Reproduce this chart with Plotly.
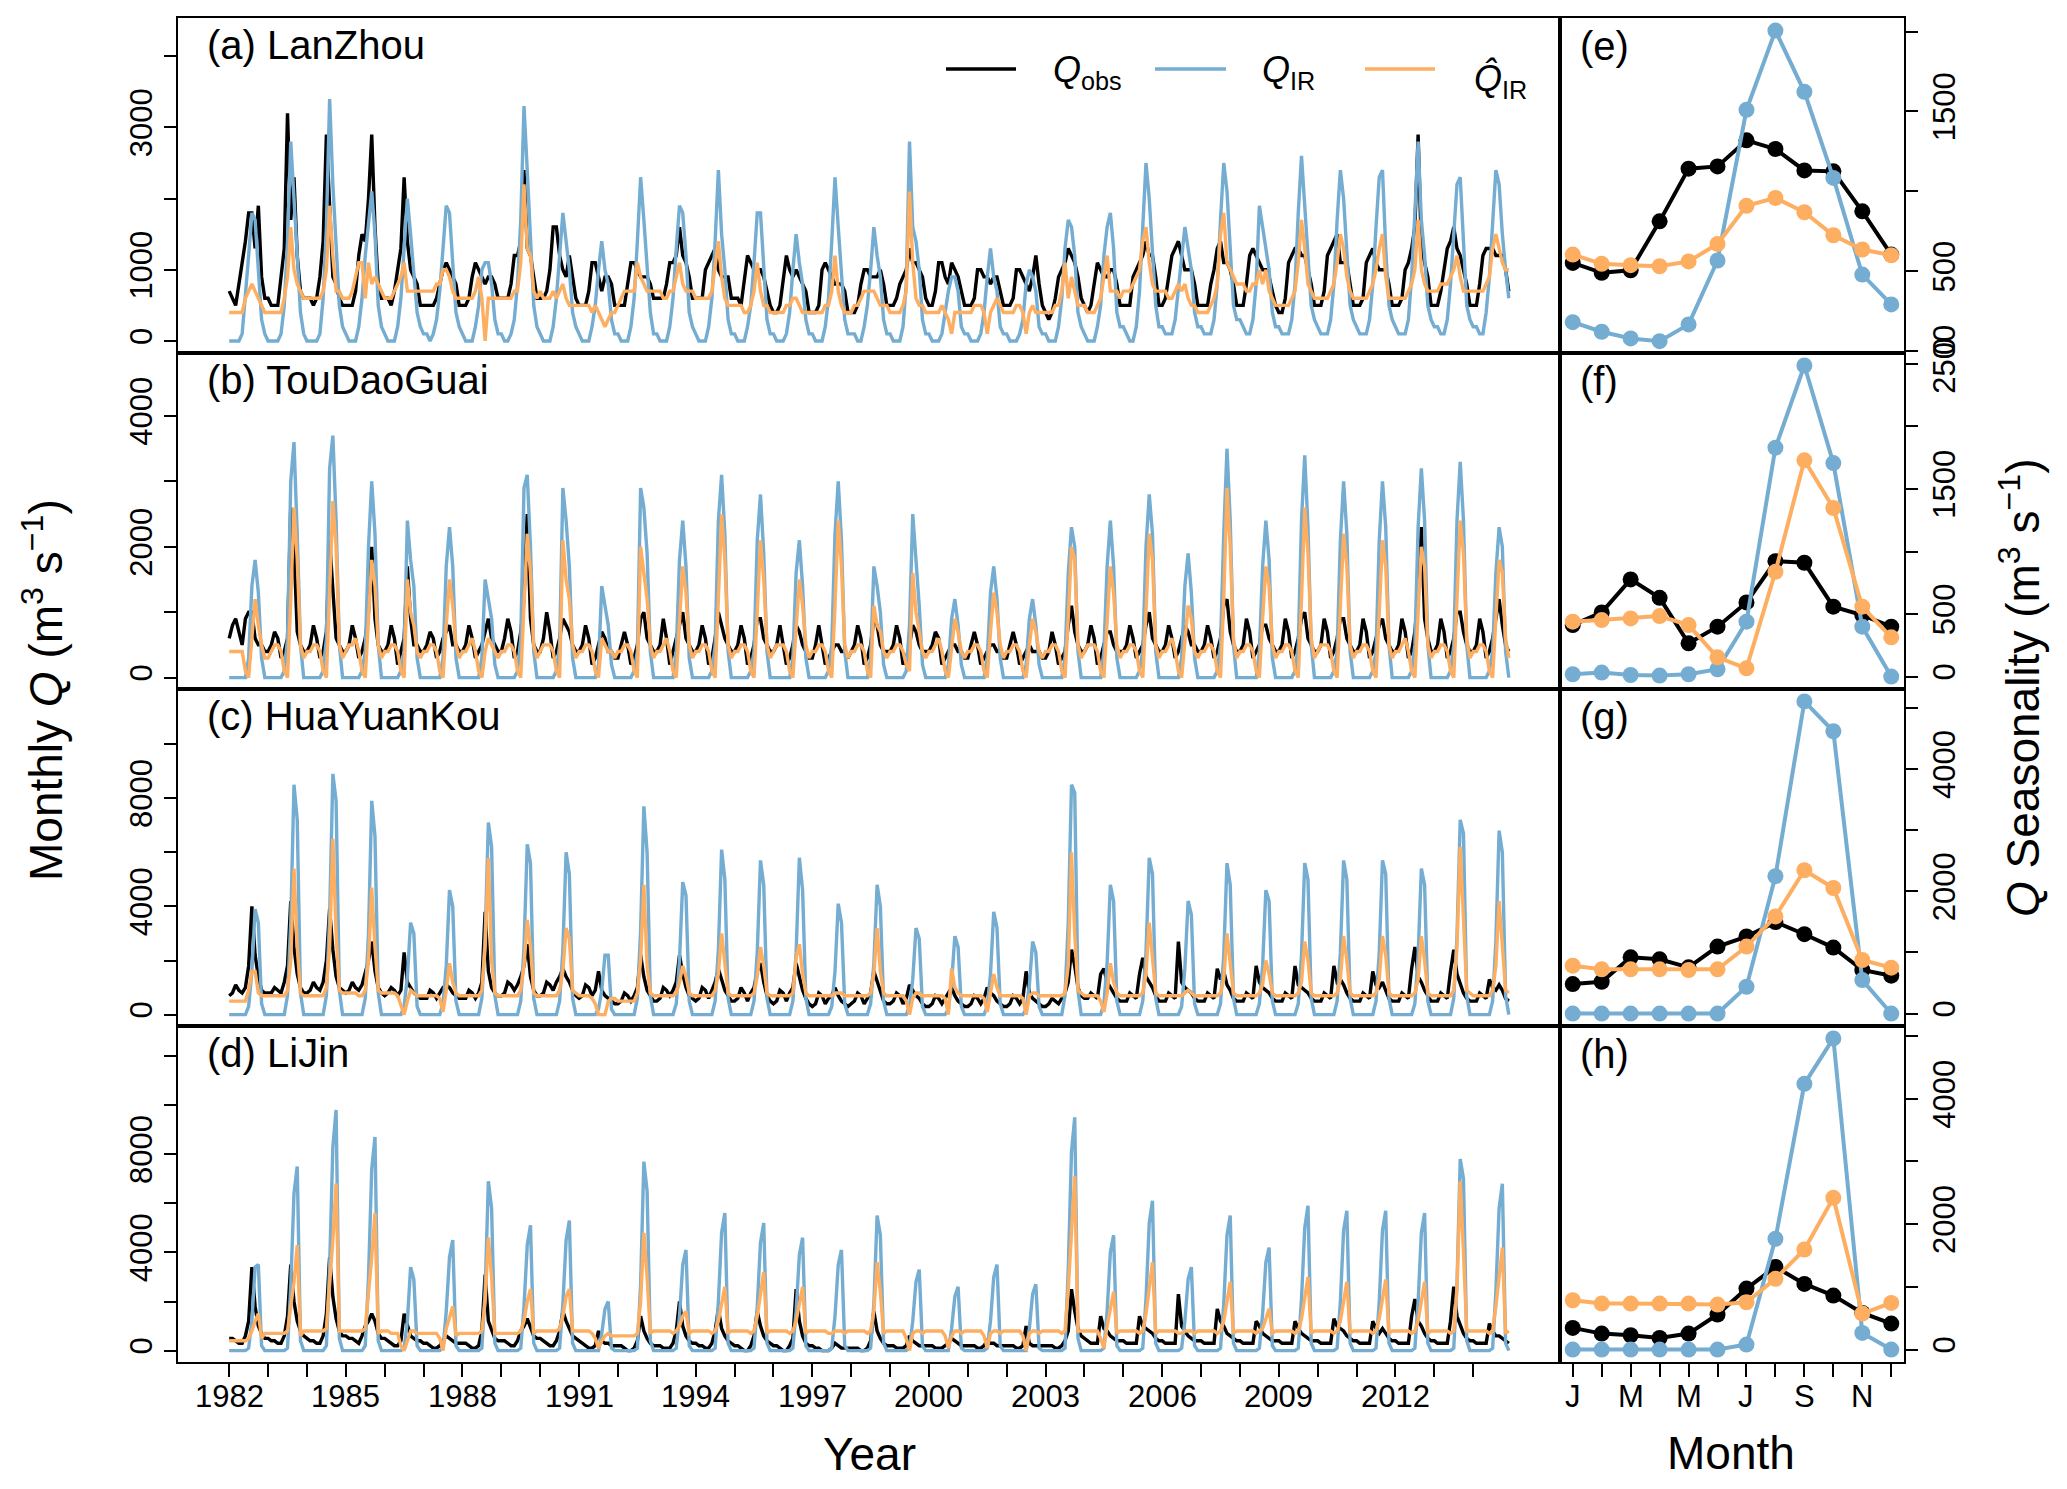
import numpy as np
import plotly.graph_objects as go

YEARS = list(range(1982, 2015))
MONTHS = list(range(1, 13))
YEAR_TICKS = list(range(1982, 2015, 3))
MONTH_TICKS = [1, 3, 5, 7, 9, 11]
MONTH_LABELS = ["J", "M", "M", "J", "S", "N"]

# monthly Q, one row per year 1982-2014 (Jan..Dec), in units of 100 m3/s
LZ_OBS = [
    [7,6,5,8,11,14,18,18,13,19,9,6], [6,5,5,5,9,13,32,17,23,12,7,6], [6,6,5,6,9,14,29,18,9,8,6,5],
    [5,5,5,7,12,15,14,20,29,16,8,6], [6,6,5,7,10,13,23,14,10,9,8,5], [5,5,5,5,6,8,10,11,10,9,8,5],
    [5,5,6,9,11,10,9,8,9,9,8,6], [6,6,6,8,12,12,14,24,13,12,9,6], [6,6,7,10,16,16,12,10,9,12,9,6],
    [5,5,5,7,11,11,9,7,9,9,8,5], [5,5,5,8,11,11,10,9,9,9,8,6], [6,6,6,8,11,11,12,16,12,11,9,6],
    [6,6,6,10,11,12,13,10,9,9,9,6], [6,6,5,9,12,11,10,10,10,9,7,5], [4,4,5,9,12,10,9,10,9,8,7,4],
    [4,4,5,10,11,10,9,8,8,8,7,4], [4,4,5,8,10,10,9,9,9,10,8,5], [5,5,6,8,9,10,13,11,11,10,9,6],
    [5,5,7,11,11,9,8,11,10,9,7,5], [5,5,6,10,10,9,9,8,9,9,7,5], [5,5,6,10,10,9,8,7,9,12,8,5],
    [4,3,4,6,9,10,11,13,12,11,9,6], [5,4,5,8,11,10,9,9,10,10,8,5], [5,5,5,9,10,11,12,14,12,12,9,5],
    [5,6,9,12,13,14,12,10,10,10,8,5], [5,5,5,8,10,13,14,11,11,10,8,5], [5,5,8,12,13,12,11,10,10,9,7,5],
    [4,4,6,11,12,13,13,12,12,10,8,5], [5,5,7,12,13,14,15,11,11,11,8,5], [5,5,6,11,12,13,11,10,10,10,8,5],
    [5,5,6,10,11,13,16,29,13,11,9,5], [5,5,7,10,13,14,16,13,12,10,8,5], [5,5,8,12,13,13,13,12,12,12,10,7],
]
LZ_IR = [
    [0,0,0,0,1,6,12,18,17,10,3,1], [0,0,0,0,1,5,14,28,20,12,4,1], [0,0,0,0,1,6,16,34,22,13,5,2],
    [1,0,0,0,2,6,12,17,21,15,5,2], [1,0,0,0,2,6,13,20,15,10,4,2], [1,1,0,1,3,7,13,19,18,11,4,2],
    [1,0,0,0,2,5,10,11,11,8,3,1], [1,0,0,1,3,8,17,33,24,14,5,2], [1,0,0,0,2,6,12,18,14,10,4,2],
    [1,0,0,0,2,5,10,14,10,8,3,1], [1,0,0,0,2,6,14,23,17,11,4,1], [1,0,0,0,2,6,13,19,18,12,4,2],
    [1,0,0,0,2,6,14,24,15,10,3,1], [1,0,0,0,2,5,11,18,18,11,3,1], [1,0,0,0,1,4,10,15,11,8,3,1],
    [1,0,0,0,2,6,14,23,16,10,3,1], [1,1,0,0,2,5,10,16,12,9,3,1], [1,0,0,0,2,8,28,16,14,10,3,1],
    [1,0,0,0,1,4,7,9,9,7,2,1], [1,0,0,0,1,4,9,13,9,7,2,1], [1,0,0,0,1,3,8,10,9,7,2,1],
    [1,0,0,0,2,6,13,17,16,12,4,2], [1,0,0,0,2,5,12,16,18,13,4,2], [2,1,0,0,2,7,16,25,20,13,5,2],
    [2,1,1,1,3,7,12,16,13,10,4,2], [2,1,1,1,3,8,17,25,21,13,5,3], [3,2,1,1,3,8,19,16,13,10,4,2],
    [2,1,1,1,3,8,18,26,19,12,5,3], [2,1,1,1,3,8,17,24,20,12,5,3], [2,1,1,1,3,8,16,23,24,13,5,3],
    [2,1,1,1,3,9,18,28,17,12,5,3], [2,2,1,1,3,8,15,22,23,14,5,3], [2,2,1,1,4,9,17,24,22,15,10,6],
]
LZ_HAT = [
    [4,4,4,4,4,6,7,8,7,6,5,4], [4,4,4,4,4,6,9,16,10,8,7,6], [6,6,6,6,6,7,10,19,12,7,7,6],
    [6,6,7,9,11,11,6,11,8,9,8,7], [6,6,6,7,8,9,11,7,7,7,7,7], [7,7,7,7,8,8,10,10,9,7,6,6],
    [6,6,6,6,7,9,6,0,6,6,6,6], [6,6,6,6,7,7,11,22,13,12,7,6], [7,6,6,6,7,6,7,8,6,5,5,5],
    [5,5,5,5,4,5,4,3,2,3,4,4], [5,6,7,7,7,7,11,9,8,7,7,7], [7,7,6,6,7,7,9,11,8,7,7,7],
    [6,6,6,6,6,7,11,14,9,6,5,5], [5,5,5,4,4,5,7,11,7,5,5,4], [4,4,4,4,5,5,6,6,5,4,4,4],
    [4,4,4,4,5,5,7,12,7,5,4,4], [4,5,5,6,7,7,7,7,6,5,5,5], [4,4,4,4,5,7,21,11,6,5,5,4],
    [4,4,4,4,5,4,3,1,4,4,4,4], [4,4,5,5,5,4,1,4,5,6,5,4], [4,4,4,5,5,4,1,4,5,4,4,4],
    [4,4,4,5,5,7,11,6,9,7,5,5], [5,4,4,4,5,6,9,12,7,7,7,6], [7,7,7,8,9,10,14,16,11,8,7,7],
    [7,7,6,6,7,8,7,8,6,5,5,4], [4,4,4,5,6,8,15,18,11,10,9,8], [8,8,7,7,8,8,10,8,10,7,6,5],
    [5,5,5,5,6,7,11,17,13,8,7,6], [6,6,6,6,7,8,11,15,13,9,7,6], [6,6,6,6,7,8,10,13,15,9,6,6],
    [6,6,6,6,7,8,10,17,10,8,7,7], [7,7,8,8,8,9,10,12,9,7,7,7], [7,7,7,7,8,9,13,15,13,11,10,10],
]

TD_OBS = [
    [6,8,9,7,5,9,10,10,6,5,5,4], [4,5,7,6,3,4,6,26,20,7,5,4], [4,5,8,6,3,4,7,21,14,6,5,4],
    [4,5,8,6,3,4,6,10,20,9,5,4], [4,5,8,6,2,4,6,17,9,5,5,4], [4,5,7,6,3,4,6,7,8,5,5,4],
    [4,5,8,6,3,4,5,7,9,6,5,4], [4,6,9,7,3,4,7,12,25,9,5,4], [4,6,10,7,3,4,6,9,8,7,5,4],
    [4,5,8,6,2,3,5,7,6,4,4,3], [3,5,7,5,2,3,5,9,10,6,5,4], [4,5,9,6,2,4,6,8,10,6,5,4],
    [4,5,8,6,2,3,6,10,8,6,5,4], [4,5,8,6,2,3,5,9,9,6,5,4], [4,5,8,5,2,3,5,8,7,5,4,3],
    [3,5,8,5,2,3,4,5,5,4,4,3], [4,5,8,6,2,3,5,9,8,5,4,4], [4,5,8,6,2,3,5,8,7,5,4,4],
    [4,5,7,6,2,3,4,5,5,4,4,3], [3,5,7,5,2,3,4,5,5,4,4,3], [3,5,7,5,2,3,4,5,4,4,4,3],
    [3,4,7,5,2,3,4,8,11,7,5,4], [4,5,8,6,2,3,5,7,7,5,4,4], [4,5,8,6,3,4,5,8,10,6,5,4],
    [4,5,8,6,3,4,6,8,7,5,5,4], [4,5,8,6,3,4,6,11,12,7,5,4], [4,5,9,7,3,4,5,8,8,6,5,4],
    [4,5,9,7,3,4,6,9,10,6,5,4], [4,5,9,7,3,4,6,9,9,6,5,4], [4,5,9,7,3,4,6,8,9,6,5,4],
    [4,5,9,7,3,4,7,13,23,9,6,4], [4,5,9,7,3,4,6,10,10,7,5,4], [4,5,9,7,3,4,6,9,12,8,5,4],
]
TD_IR = [
    [0,0,0,0,0,0,3,14,18,13,3,0], [0,0,0,0,0,1,6,30,36,22,5,0], [0,0,0,0,0,1,6,32,37,24,5,0],
    [0,0,0,0,0,1,4,20,30,22,5,0], [0,0,0,0,0,1,4,24,18,14,3,0], [0,0,0,0,0,0,3,17,23,17,3,0],
    [0,0,0,0,0,0,3,15,12,9,2,0], [0,0,0,0,0,1,6,29,31,20,4,0], [0,0,0,0,0,1,5,29,24,17,3,0],
    [0,0,0,0,0,0,2,14,11,8,2,0], [0,0,0,0,0,1,4,29,26,19,4,0], [0,0,0,0,0,0,4,18,24,17,3,0],
    [0,0,0,0,0,1,5,24,31,22,4,0], [0,0,0,0,0,1,4,21,28,19,4,0], [0,0,0,0,0,0,3,16,21,14,3,0],
    [0,0,0,0,0,1,5,22,30,21,4,0], [0,0,0,0,0,0,3,17,14,10,2,0], [0,0,0,0,0,1,8,25,18,11,2,0],
    [0,0,0,0,0,0,2,9,12,8,2,0], [0,0,0,0,0,0,3,13,17,12,3,0], [0,0,0,0,0,0,2,9,12,8,2,0],
    [0,0,0,0,0,0,3,16,23,20,4,0], [0,0,0,0,0,0,4,17,24,17,3,0], [0,0,0,0,0,1,4,20,28,22,4,0],
    [0,0,0,0,0,0,3,14,19,13,3,0], [0,0,0,0,0,1,5,22,35,24,5,0], [0,0,0,0,0,0,4,17,24,18,3,0],
    [0,0,0,0,0,1,5,24,34,23,5,0], [0,0,0,0,0,1,4,21,30,22,4,0], [0,0,0,0,0,1,4,21,30,23,5,0],
    [0,0,0,0,0,1,5,23,32,24,5,0], [0,0,0,0,0,1,5,24,33,24,5,0], [0,0,0,0,0,1,4,16,23,20,4,0],
]
TD_HAT = [
    [4,4,4,4,4,1,0,6,12,8,5,3], [3,4,5,5,4,1,0,12,26,18,5,3], [4,4,5,5,4,1,0,13,27,20,5,3],
    [4,5,5,6,4,1,0,9,18,14,5,3], [4,4,5,5,4,1,0,15,10,8,4,3], [4,4,5,5,4,1,0,8,15,11,5,3],
    [4,4,5,6,4,1,0,4,6,5,4,3], [4,4,5,5,4,1,0,11,22,16,5,3], [4,5,5,5,4,1,0,21,15,12,5,3],
    [4,4,5,5,4,1,0,6,5,4,4,3], [4,4,5,5,4,1,0,20,16,12,5,3], [4,4,5,6,4,1,0,9,17,13,5,3],
    [4,4,5,5,4,1,0,12,25,18,5,3], [4,4,5,5,4,1,0,10,21,15,5,3], [4,5,5,5,4,1,0,8,15,11,5,3],
    [4,4,5,5,4,1,0,11,24,17,5,3], [4,4,5,5,4,1,0,11,8,7,4,3], [4,4,5,5,4,2,1,16,10,7,4,3],
    [4,4,5,6,4,1,0,5,9,7,4,3], [4,4,5,5,4,1,0,7,13,10,5,3], [4,4,5,5,4,1,0,5,9,7,4,3],
    [4,4,5,5,4,1,0,9,20,18,5,3], [4,5,5,5,4,1,0,9,17,13,5,3], [4,4,5,5,4,1,0,10,22,18,5,3],
    [4,4,5,6,4,1,0,6,11,9,4,3], [4,4,5,5,4,1,0,12,29,20,6,3], [4,4,5,5,4,1,0,9,17,14,5,3],
    [4,4,5,5,4,1,0,12,26,19,6,3], [4,5,5,5,4,1,0,10,22,17,5,3], [4,4,5,5,4,1,0,10,21,17,5,3],
    [4,4,5,6,4,1,0,10,20,17,5,3], [4,4,5,5,4,1,0,12,24,19,6,3], [4,4,5,5,4,1,0,9,18,16,6,3],
]

HY_OBS = [
    [7,8,11,9,8,10,18,40,22,14,9,8], [8,8,10,9,8,12,18,42,25,15,10,8], [8,9,12,10,9,12,20,39,24,14,10,9],
    [8,9,12,10,9,11,15,20,27,16,10,8], [7,8,10,9,7,9,23,12,10,8,7,6], [6,6,9,8,6,8,10,11,10,8,7,6],
    [6,6,9,8,6,8,12,38,16,10,8,7], [7,8,12,11,9,11,14,18,26,14,9,7], [7,8,12,11,9,12,14,17,14,12,9,7],
    [6,7,11,10,7,9,16,9,7,6,5,4], [4,5,8,7,5,7,10,22,14,9,7,5], [5,6,10,9,7,9,12,22,15,10,7,6],
    [5,6,10,9,6,9,12,17,13,9,7,5], [5,6,10,8,5,8,10,16,19,12,7,5], [4,5,9,8,5,8,10,19,14,9,6,4],
    [3,4,8,7,4,6,7,10,7,5,4,3], [4,5,8,7,4,6,8,16,12,8,5,4], [4,5,8,7,4,6,11,9,7,6,4,3],
    [3,4,7,6,4,6,8,10,7,5,4,3], [3,4,7,6,4,6,10,8,7,5,4,3], [3,4,7,6,4,6,16,8,6,5,4,3],
    [3,4,6,5,4,6,8,12,24,18,10,7], [6,6,8,7,6,15,17,12,10,8,6,5], [5,5,8,7,6,15,21,14,12,10,7,5],
    [5,5,8,7,6,27,12,10,9,8,6,5], [5,5,8,7,6,17,13,16,11,9,6,5], [5,5,8,7,6,18,12,10,9,8,6,5],
    [5,5,8,7,6,18,11,10,9,8,6,5], [5,5,8,7,6,18,12,13,11,8,6,5], [5,5,8,7,6,16,11,10,12,9,6,5],
    [5,5,8,7,6,17,25,14,12,9,7,5], [5,5,8,7,6,16,24,15,11,8,6,5], [5,5,8,7,6,13,10,9,11,9,6,5],
]
HY_IR = [
    [0,0,0,0,0,0,3,16,39,34,4,0], [0,0,0,0,0,0,7,34,85,72,8,0], [0,0,0,0,0,0,7,36,89,79,9,0],
    [0,0,0,0,0,0,6,30,79,66,8,0], [0,0,0,0,0,0,3,14,34,30,3,0], [0,0,0,0,0,0,4,18,46,40,5,0],
    [0,0,0,0,0,0,6,28,71,62,7,0], [0,0,0,0,0,0,5,25,63,56,6,0], [0,0,0,0,0,0,5,24,60,52,6,0],
    [0,0,0,0,0,0,2,9,22,22,2,0], [0,0,0,0,0,0,6,31,77,60,7,0], [0,0,0,0,0,0,4,20,49,44,5,0],
    [0,0,0,0,0,0,5,24,61,50,6,0], [0,0,0,0,0,0,5,23,57,48,6,0], [0,0,0,0,0,0,5,23,58,46,6,0],
    [0,0,0,0,0,0,3,16,41,34,4,0], [0,0,0,0,0,0,4,19,48,40,5,0], [0,0,0,0,0,0,3,13,32,28,3,0],
    [0,0,0,0,0,0,2,12,29,25,3,0], [0,0,0,0,0,0,3,15,38,32,4,0], [0,0,0,0,0,0,2,11,27,23,3,0],
    [0,0,0,0,0,0,7,34,85,82,9,0], [0,0,0,0,0,0,4,19,48,42,5,0], [0,0,0,0,0,0,5,23,58,52,6,0],
    [0,0,0,0,0,0,3,17,42,37,4,0], [0,0,0,0,0,0,4,22,56,48,6,0], [0,0,0,0,0,0,4,18,46,42,5,0],
    [0,0,0,0,0,0,4,22,56,50,6,0], [0,0,0,0,0,0,5,23,57,50,6,0], [0,0,0,0,0,0,5,23,57,52,6,0],
    [0,0,0,0,0,0,4,22,54,48,5,0], [0,0,0,0,0,0,6,29,72,67,7,0], [0,0,0,0,0,0,5,27,68,60,7,0],
]
HY_HAT = [
    [5,5,5,5,5,5,9,16,16,8,7,7], [7,7,7,7,7,7,9,20,54,25,8,7], [7,7,7,7,7,7,10,25,65,30,9,8],
    [8,8,8,8,7,7,9,20,47,25,9,8], [8,8,8,8,7,3,0,5,9,8,7,7], [7,7,7,7,7,6,1,9,19,12,8,7],
    [7,7,7,7,7,7,9,25,58,20,8,7], [7,7,7,7,7,7,9,18,35,25,8,7], [7,7,7,7,7,7,9,16,32,28,9,8],
    [7,7,7,7,6,4,0,0,0,5,6,6], [5,5,5,5,5,5,8,20,48,18,8,7], [7,7,7,7,7,7,8,12,18,14,8,7],
    [7,7,7,7,7,7,9,15,30,18,8,7], [7,7,7,7,7,7,8,14,25,18,8,7], [7,7,7,7,7,7,8,21,26,15,8,7],
    [7,7,7,7,7,7,7,8,8,8,7,7], [7,7,7,7,7,7,8,15,32,16,8,7], [7,7,7,7,7,5,0,6,8,8,7,7],
    [7,7,7,7,7,6,0,17,10,8,7,7], [7,7,7,7,7,6,1,8,15,10,7,7], [7,7,7,7,7,6,0,7,8,8,7,7],
    [7,7,7,7,7,7,8,18,60,30,9,8], [7,7,7,7,7,5,1,8,19,12,8,7], [7,7,7,7,7,7,8,15,34,20,8,7],
    [7,7,7,7,7,7,7,8,9,8,7,7], [7,7,7,7,7,7,8,13,30,20,8,7], [7,7,7,7,7,7,8,11,20,15,8,7],
    [7,7,7,7,7,7,8,12,27,20,8,7], [7,7,7,7,7,7,8,13,29,20,8,7], [7,7,7,7,7,7,8,13,29,22,8,7],
    [7,7,7,7,7,7,8,13,29,20,8,7], [7,7,7,7,7,7,9,25,62,35,9,8], [7,7,7,7,7,7,9,18,42,25,9,8],
]

LJ_OBS = [
    [5,5,4,3,3,6,12,34,18,10,7,5], [5,4,4,3,3,6,14,35,20,12,8,6], [5,4,4,3,3,6,15,38,22,13,8,6],
    [6,5,5,4,3,6,10,12,15,12,7,5], [5,4,3,2,2,4,15,10,6,5,4,4], [3,3,2,1,1,2,4,6,5,4,3,3],
    [3,3,2,1,1,2,8,31,12,8,5,4], [4,4,3,2,2,4,8,10,13,9,6,5], [5,4,3,2,2,4,8,16,12,9,6,5],
    [4,3,2,1,1,2,8,4,3,3,2,2], [2,2,1,0,0,1,4,14,8,5,3,2], [2,2,1,1,1,3,8,20,10,6,4,3],
    [3,2,2,1,1,3,8,17,9,6,4,3], [2,2,1,0,0,2,6,16,10,6,4,3], [2,2,1,0,0,2,5,25,12,6,3,2],
    [2,1,1,0,0,0,1,3,2,1,1,1], [1,1,1,0,0,1,4,16,8,5,3,2], [2,2,1,1,1,2,6,4,3,2,2,2],
    [2,2,1,1,1,2,3,5,4,3,2,2], [2,2,2,1,1,2,4,3,3,2,2,2], [2,2,2,1,1,2,10,3,2,2,2,2],
    [2,2,2,1,1,2,4,8,25,16,9,6], [5,4,3,3,3,14,9,8,6,5,4,4], [4,3,3,3,3,14,10,9,8,7,5,4],
    [4,3,3,3,3,23,10,8,6,5,4,4], [4,3,3,3,3,17,12,10,7,6,5,4], [4,3,3,3,3,12,10,7,6,5,4,4],
    [4,3,3,3,3,12,9,7,6,5,4,4], [4,3,3,3,3,13,10,9,8,6,5,4], [4,3,3,3,3,12,9,7,9,7,5,4],
    [4,3,3,3,3,14,21,12,10,7,5,4], [4,3,3,3,3,12,26,14,10,7,5,4], [4,3,3,3,3,11,8,6,6,5,4,3],
]
LJ_IR = [
    [0,0,0,0,0,0,1,12,34,35,2,0], [0,0,0,0,0,0,1,26,64,75,4,0], [0,0,0,0,0,0,2,34,83,98,5,0],
    [0,0,0,0,0,0,2,30,74,87,4,0], [0,0,0,0,0,0,1,12,34,29,2,0], [0,0,0,0,0,0,1,16,38,45,2,0],
    [0,0,0,0,0,0,1,24,69,58,3,0], [0,0,0,0,0,0,1,18,43,51,3,0], [0,0,0,0,0,0,1,19,45,53,3,0],
    [0,0,0,0,0,0,0,7,17,20,1,0], [0,0,0,0,0,0,1,27,77,65,4,0], [0,0,0,0,0,0,1,14,35,41,2,0],
    [0,0,0,0,0,0,1,20,48,56,3,0], [0,0,0,0,0,0,1,18,44,52,3,0], [0,0,0,0,0,0,1,16,39,46,2,0],
    [0,0,0,0,0,0,1,14,35,41,2,0], [0,0,0,0,0,0,1,19,55,47,3,0], [0,0,0,0,0,0,1,12,28,33,2,0],
    [0,0,0,0,0,0,0,9,22,26,1,0], [0,0,0,0,0,0,1,12,30,35,2,0], [0,0,0,0,0,0,0,9,23,27,1,0],
    [0,0,0,0,0,0,1,33,81,95,5,0], [0,0,0,0,0,0,1,16,40,47,2,0], [0,0,0,0,0,0,1,21,52,61,3,0],
    [0,0,0,0,0,0,1,12,29,34,2,0], [0,0,0,0,0,0,1,19,47,55,3,0], [0,0,0,0,0,0,1,15,36,42,2,0],
    [0,0,0,0,0,0,1,21,50,59,3,0], [0,0,0,0,0,0,1,20,49,57,3,0], [0,0,0,0,0,0,1,20,49,57,3,0],
    [0,0,0,0,0,0,1,20,48,56,3,0], [0,0,0,0,0,0,1,27,78,70,4,0], [0,0,0,0,0,0,1,24,58,68,3,0],
]
LJ_HAT = [
    [4,4,4,4,4,4,5,8,12,15,5,7], [7,7,7,7,7,7,8,18,28,43,6,8], [8,8,8,8,8,8,9,25,45,68,8,8],
    [8,8,8,8,8,8,9,22,38,56,7,8], [8,8,7,7,7,2,0,4,8,8,7,7], [7,7,7,7,7,5,0,9,14,18,6,7],
    [7,7,7,7,7,7,8,20,46,30,7,7], [7,7,7,7,7,7,8,12,20,25,7,8], [8,8,8,8,8,8,9,14,22,25,8,8],
    [8,8,8,8,7,5,1,4,6,7,6,6], [6,6,6,6,6,6,7,20,48,30,7,8], [8,8,8,8,8,7,8,10,14,16,7,8],
    [8,8,8,8,8,7,8,12,20,26,7,8], [8,8,8,8,8,7,8,14,24,32,7,8], [8,8,8,8,8,7,8,12,20,26,7,8],
    [8,8,8,8,8,7,7,8,8,8,7,8], [8,8,8,8,8,7,8,16,36,24,7,8], [8,8,8,8,8,5,0,7,8,8,7,8],
    [8,8,8,8,8,6,1,6,8,8,7,8], [8,8,8,8,8,6,1,7,8,8,7,8], [8,8,8,8,8,6,0,7,8,8,7,8],
    [8,8,8,8,8,7,8,25,50,71,8,8], [8,8,8,8,8,5,1,10,18,24,7,8], [8,8,8,8,8,7,8,15,26,36,7,8],
    [8,8,8,8,8,7,7,8,8,8,7,8], [8,8,8,8,8,7,8,12,20,28,7,8], [8,8,8,8,8,7,8,9,13,17,7,8],
    [8,8,8,8,8,7,8,13,22,30,7,8], [8,8,8,8,8,7,8,12,20,28,7,8], [8,8,8,8,8,7,8,13,21,29,7,8],
    [8,8,8,8,8,7,8,12,20,28,7,8], [8,8,8,8,8,7,8,25,69,40,8,8], [8,8,8,8,8,7,8,18,30,42,7,8],
]

# mean seasonal cycle (m3/s), Jan..Dec
LZ_SEAS_OBS = [552, 490, 506, 812, 1142, 1156, 1319, 1265, 1131, 1125, 875, 604]
LZ_SEAS_IR = [181, 121, 79, 62, 167, 567, 1510, 2006, 1623, 1084, 479, 292]
LZ_SEAS_HAT = [604, 546, 538, 531, 561, 671, 909, 959, 869, 725, 636, 600]
TD_SEAS_OBS = [412, 513, 777, 630, 266, 399, 593, 923, 910, 559, 492, 399]
TD_SEAS_IR = [19, 32, 13, 8, 19, 59, 439, 1830, 2487, 1707, 399, 0]
TD_SEAS_HAT = [439, 452, 465, 484, 412, 154, 66, 838, 1729, 1348, 559, 314]
HY_SEAS_OBS = [482, 521, 921, 888, 757, 1096, 1261, 1497, 1299, 1080, 713, 620]
HY_SEAS_IR = [0, 0, 0, 0, 0, 0, 439, 2248, 5110, 4622, 548, 0]
HY_SEAS_HAT = [784, 724, 724, 724, 713, 724, 1096, 1590, 2346, 2056, 877, 751]
LJ_SEAS_OBS = [346, 255, 229, 186, 255, 559, 973, 1319, 1048, 862, 585, 415]
LJ_SEAS_IR = [0, 0, 0, 0, 0, 0, 80, 1766, 4239, 4963, 266, 0]
LJ_SEAS_HAT = [787, 734, 734, 734, 734, 718, 755, 1128, 1596, 2420, 574, 745]

STATIONS = ["(a) LanZhou", "(b) TouDaoGuai", "(c) HuaYuanKou", "(d) LiJin"]
SEAS_TAGS = ["(e)", "(f)", "(g)", "(h)"]
MONTHLY = [(LZ_OBS, LZ_IR, LZ_HAT), (TD_OBS, TD_IR, TD_HAT),
           (HY_OBS, HY_IR, HY_HAT), (LJ_OBS, LJ_IR, LJ_HAT)]
SEASONAL = [(LZ_SEAS_OBS, LZ_SEAS_IR, LZ_SEAS_HAT), (TD_SEAS_OBS, TD_SEAS_IR, TD_SEAS_HAT),
            (HY_SEAS_OBS, HY_SEAS_IR, HY_SEAS_HAT), (LJ_SEAS_OBS, LJ_SEAS_IR, LJ_SEAS_HAT)]

# labelled ticks and the full set of tick marks per panel
LEFT_LABELLED = [[0, 1000, 3000], [0, 2000, 4000], [0, 4000, 8000], [0, 4000, 8000]]
LEFT_MARKS = [list(range(0, 4001, 1000)), list(range(0, 4001, 1000)),
              list(range(0, 10001, 2000)), list(range(0, 12001, 2000))]
RIGHT_LABELLED = [[0, 500, 1500], [0, 500, 1500, 2500], [0, 2000, 4000], [0, 2000, 4000]]
RIGHT_MARKS = [list(range(0, 2001, 500)), list(range(0, 2501, 500)),
               list(range(0, 5001, 1000)), list(range(0, 5001, 1000))]
LEFT_YRANGE = [(-169, 4537), (-174, 4963), (-421, 12037), (-464, 13222)]
RIGHT_YRANGE = [(-12, 2085), (-99, 2587), (-204, 5314), (-198, 5161)]

BLACK = "#000000"
BLUE = "#74ADD1"
ORANGE = "#FDAE61"
COLORS = [BLACK, BLUE, ORANGE]
FONT = "Liberation Sans, Arial, Helvetica, sans-serif"

W, H = 2067, 1489
PAGE_PAD = 8  # default body margin of the html page


def fx(p):
    return (p - PAGE_PAD) / W


def fy(p):
    return 1 - (p - PAGE_PAD) / H


LEFT = (178, 1560)
RIGHT = (1560, 1904)
ROWS = [(18, 353), (353, 689), (689, 1026), (1026, 1362)]
TICKLABEL_Y = 1396

t = np.array([y + (m - 1) / 12 for y in YEARS for m in MONTHS])

fig = go.Figure()
layout = dict(
    template="none",
    width=W, height=H, margin=dict(l=0, r=0, t=0, b=0, autoexpand=False),
    paper_bgcolor="white", plot_bgcolor="white", showlegend=False,
    font=dict(family=FONT, size=31, color="black"),
)
annotations = []
axis_common = dict(showline=True, mirror=True, linecolor="black", linewidth=2,
                   showgrid=False, zeroline=False, automargin=False,
                   tickwidth=2, tickcolor="black",
                   tickfont=dict(family=FONT, size=31, color="black"))


def minor_marks(vals, length):
    return dict(tickmode="array", tickvals=vals, ticks="outside", ticklen=length,
                tickwidth=2, tickcolor="black", showgrid=False)


for i in range(4):
    top, bot = ROWS[i]
    nl, nr = 2 * i + 1, 2 * i + 2
    bottom = i == 3

    # monthly series
    for rows, col in zip(MONTHLY[i], COLORS):
        q = np.array(rows, dtype=float).ravel() * 100
        fig.add_trace(go.Scatter(x=t, y=q, mode="lines", line=dict(color=col, width=3.4),
                                 xaxis=f"x{nl}", yaxis=f"y{nl}", hoverinfo="skip"))
    # seasonality
    for vals, col in zip(SEASONAL[i], COLORS):
        fig.add_trace(go.Scatter(x=MONTHS, y=vals, mode="lines+markers",
                                 line=dict(color=col, width=4), marker=dict(color=col, size=16),
                                 xaxis=f"x{nr}", yaxis=f"y{nr}", hoverinfo="skip"))

    xl = dict(axis_common, domain=[fx(LEFT[0]), fx(LEFT[1])], anchor=f"y{nl}",
              range=[1980.683, 2016.233], showticklabels=False)
    xr = dict(axis_common, domain=[fx(RIGHT[0]), fx(RIGHT[1])], anchor=f"y{nr}",
              range=[0.56, 12.44], showticklabels=False)
    if bottom:
        xl.update(ticks="outside", ticklen=13, tickvals=YEARS)
        xr.update(ticks="outside", ticklen=13, tickvals=MONTHS)
    else:
        xl.update(ticks="")
        xr.update(ticks="")
    layout[f"xaxis{nl}"] = xl
    layout[f"xaxis{nr}"] = xr

    layout[f"yaxis{nl}"] = dict(
        axis_common, domain=[fy(bot), fy(top)], anchor=f"x{nl}", side="left",
        range=list(LEFT_YRANGE[i]), ticks="outside", ticklen=12,
        tickvals=LEFT_LABELLED[i], ticktext=[str(v) for v in LEFT_LABELLED[i]],
        tickangle=-90, minor=minor_marks(LEFT_MARKS[i], 12))
    layout[f"yaxis{nr}"] = dict(
        axis_common, domain=[fy(bot), fy(top)], anchor=f"x{nr}", side="right",
        range=list(RIGHT_YRANGE[i]), ticks="outside", ticklen=12,
        tickvals=RIGHT_LABELLED[i], ticktext=[str(v) for v in RIGHT_LABELLED[i]],
        tickangle=-90, minor=minor_marks(RIGHT_MARKS[i], 12))

    annotations.append(dict(text=STATIONS[i], x=fx(205), y=fy(top + 27), xref="paper", yref="paper",
                            xanchor="left", yanchor="middle", showarrow=False,
                            font=dict(family=FONT, size=40)))
    annotations.append(dict(text=SEAS_TAGS[i], x=fx(1578), y=fy(top + 28), xref="paper", yref="paper",
                            xanchor="left", yanchor="middle", showarrow=False,
                            font=dict(family=FONT, size=40)))

# bottom tick labels, placed on the data axes of the lowest row
for yr in YEAR_TICKS:
    annotations.append(dict(text=str(yr), x=yr, xref="x7", y=fy(TICKLABEL_Y), yref="paper",
                            xanchor="center", yanchor="middle", showarrow=False,
                            font=dict(family=FONT, size=31)))
for m, lab in zip(MONTH_TICKS, MONTH_LABELS):
    annotations.append(dict(text=lab, x=m, xref="x8", y=fy(TICKLABEL_Y), yref="paper",
                            xanchor="center", yanchor="middle", showarrow=False,
                            font=dict(family=FONT, size=31)))

# axis titles
annotations += [
    dict(text="Year", x=fx(869), y=fy(1454), xref="paper", yref="paper", showarrow=False,
         xanchor="center", yanchor="middle", font=dict(family=FONT, size=46)),
    dict(text="Month", x=fx(1731), y=fy(1453), xref="paper", yref="paper", showarrow=False,
         xanchor="center", yanchor="middle", font=dict(family=FONT, size=46)),
    dict(text="Monthly <i>Q</i> (m<sup>3</sup> s<sup>\u22121</sup>)", x=fx(43), y=fy(690),
         xref="paper", yref="paper", showarrow=False, textangle=-90,
         xanchor="center", yanchor="middle", font=dict(family=FONT, size=46)),
    dict(text="<i>Q</i> Seasonality (m<sup>3</sup> s<sup>\u22121</sup>)", x=fx(2020), y=fy(688),
         xref="paper", yref="paper", showarrow=False, textangle=-90,
         xanchor="center", yanchor="middle", font=dict(family=FONT, size=46)),
]

# legend inside panel (a)
shapes = []
legend_items = [(946, 1016, BLACK, 1051, "<i>Q</i><sub>obs</sub>", 72),
                (1155, 1226, BLUE, 1260, "<i>Q</i><sub>IR</sub>", 72),
                (1365, 1435, ORANGE, 1472, "<i>Q\u0302</i><sub>IR</sub>", 80)]
for x0, x1, col, xt, label, yt in legend_items:
    shapes.append(dict(type="line", xref="paper", yref="paper", x0=fx(x0), x1=fx(x1),
                       y0=fy(69), y1=fy(69), line=dict(color=col, width=3.5)))
    annotations.append(dict(text=label, x=fx(xt), y=fy(yt), xref="paper", yref="paper",
                            xanchor="left", yanchor="middle", showarrow=False,
                            font=dict(family=FONT, size=36)))

layout["annotations"] = annotations
layout["shapes"] = shapes
fig.update_layout(**layout)
fig.write_html("out.html")
